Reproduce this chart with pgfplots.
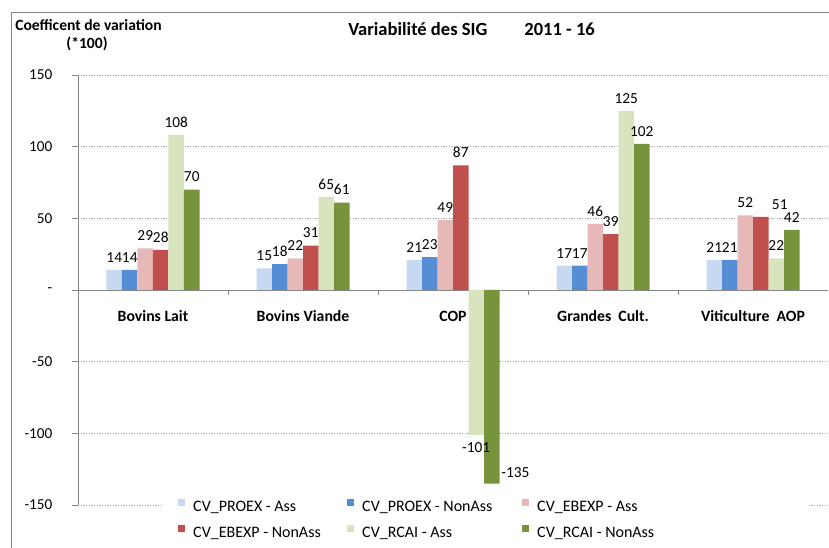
\documentclass[border=0pt]{standalone}
\usepackage{pgfplots}
\pgfplotsset{compat=1.18}
\usepackage{fontspec}
\setmainfont{Carlito}
\definecolor{c1}{HTML}{C6D9F1}
\definecolor{c2}{HTML}{558ED5}
\definecolor{c3}{HTML}{E6B9B8}
\definecolor{c4}{HTML}{C0504D}
\definecolor{c5}{HTML}{D7E4BD}
\definecolor{c6}{HTML}{77933C}
\definecolor{axgray}{HTML}{868686}
\begin{document}
\begin{tikzpicture}
\useasboundingbox (0,0) rectangle (621.75pt,410.25pt);
\draw[axgray,line width=0.75pt] (8.25pt,-2pt) -- (8.25pt,400.5pt) -- (625pt,400.5pt);
\node[anchor=base west,inner sep=0pt,font=\fontsize{13.9}{16}\selectfont\bfseries] at (261pt,383.25pt) {Variabilité des SIG\hspace{27.75pt}2011 - 16};
\node[anchor=base west,inner sep=0pt,font=\fontsize{11.7}{14}\selectfont\bfseries] at (11.25pt,387pt) {Coefficent de variation};
\node[anchor=base,inner sep=0pt,font=\fontsize{11.7}{14}\selectfont\bfseries] at (65.25pt,373.5pt) {(*100)};
\begin{axis}[
  at={(58.5pt,31.5pt)}, anchor=south west,
  scale only axis, width=562.5pt, height=322.5pt,
  xmin=-0.5, xmax=4.5, ymin=-150, ymax=150,
  ybar=0pt, bar width=11.625pt,
  axis x line*=middle, axis y line*=left,
  axis line style={axgray, line width=0.6pt},
  xtick={0,1,2,3,4},
  xticklabels={Bovins Lait, Bovins Viande, COP, Grandes\ \ Cult., Viticulture\ \ AOP},
  xtick style={draw=none},
  xticklabel style={font=\fontsize{11.8}{14}\selectfont\bfseries, anchor=base, yshift=-18.75pt},
  ytick={-150,-100,-50,0,50,100,150},
  yticklabels={-150,-100,-50,-,50,100,150},
  ytick style={axgray, line width=0.6pt},
  tick align=outside, major tick length=4.5pt,
  yticklabel style={font=\fontsize{11.4}{13}\selectfont, xshift=-11.25pt},
  ymajorgrids, major grid style={axgray!70, dash pattern=on 1pt off 1pt, line width=0.5pt},
  /pgf/number format/assume math mode=true,
  nodes near coords,
  every node near coord/.append style={font=\fontsize{11.5}{13}\selectfont, inner ysep=5.5pt, inner xsep=1pt, black},
  legend columns=3,
  legend cell align=left,
  legend image code/.code={\fill[#1,draw=none] (0pt,0.75pt) rectangle (5.25pt,6pt); \path (-11.25pt,0pt) (11.25pt,0pt);},
  legend style={at={(0.1133,0.0140)}, anchor=north west, draw=none, fill=white,
     inner xsep=0pt, inner ysep=0pt, column sep=0pt, row sep=8.25pt,
     nodes={inner sep=0pt, text height=8.25pt, text depth=2.25pt},
     font=\fontsize{12}{14}\selectfont},
]
\addplot[fill=c1, draw=none] coordinates {(0,14) (1,15) (2,21) (3,17) (4,21)};
\addlegendentry{\makebox[104.25pt][l]{CV\_PROEX - Ass}}
\addplot[fill=c2, draw=none] coordinates {(0,14) (1,18) (2,23) (3,17) (4,21)};
\addlegendentry{\makebox[108.75pt][l]{CV\_PROEX - NonAss}}
\addplot[fill=c3, draw=none] coordinates {(0,29) (1,22) (2,49) (3,46) (4,52)};
\addlegendentry{\makebox[204.75pt][l]{CV\_EBEXP - Ass}}
\addplot[fill=c4, draw=none, coordinate style/.condition={x==4}{xshift=14.25pt}] coordinates {(0,28) (1,31) (2,87) (3,39) (4,51)};
\addlegendentry{\makebox[104.25pt][l]{CV\_EBEXP - NonAss}}
\addplot[fill=c5, draw=none] coordinates {(0,108) (1,65) (2,-101) (3,125) (4,22)};
\addlegendentry{\makebox[108.75pt][l]{CV\_RCAI - Ass}}
\addplot[fill=c6, draw=none, coordinate style/.condition={x==2}{anchor=west, xshift=6pt, yshift=8pt}] coordinates {(0,70) (1,61) (2,-135) (3,102) (4,42)};
\addlegendentry{\makebox[204.75pt][l]{CV\_RCAI - NonAss}}
\draw[axgray, line width=0.6pt] (axis cs:0.5,0) -- ++(0pt,-3.75pt);
\draw[axgray, line width=0.6pt] (axis cs:1.5,0) -- ++(0pt,-3.75pt);
\draw[axgray, line width=0.6pt] (axis cs:2.5,0) -- ++(0pt,-3.75pt);
\draw[axgray, line width=0.6pt] (axis cs:3.5,0) -- ++(0pt,-3.75pt);
\end{axis}
\end{tikzpicture}
\end{document}
